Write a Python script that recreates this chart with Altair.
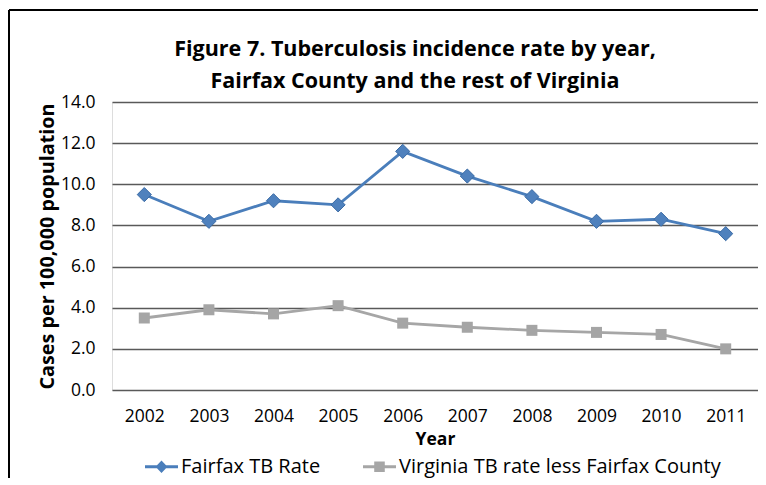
import altair as alt
import pandas as pd

years = [2002, 2003, 2004, 2005, 2006, 2007, 2008, 2009, 2010, 2011]
fairfax = [9.5, 8.2, 9.2, 9.0, 11.6, 10.4, 9.4, 8.2, 8.3, 7.6]
virginia = [3.5, 3.9, 3.7, 4.1, 3.25, 3.05, 2.9, 2.8, 2.7, 2.0]
series_names = ["Fairfax TB Rate", "Virginia TB rate less Fairfax County"]
line_colors = ["#4A7EBB", "#A6A6A6"]
marker_fill = ["#4F81BD", "#A5A5A5"]
marker_stroke = ["#3A6BA5", "#A5A5A5"]
y_ticks = [0, 2, 4, 6, 8, 10, 12, 14]

rows = []
for name, vals in zip(series_names, [fairfax, virginia]):
    for yr, v in zip(years, vals):
        rows.append({"Year": str(yr), "series": name, "rate": v})
df = pd.DataFrame(rows)

FONT = "Open Sans"

# legend symbols: a short line with the marker on it
diamond_leg = "M-1,-0.09H1V0.09H-1Z M0,-0.38L0.36,0L0,0.38L-0.36,0Z"
square_leg = "M-1,-0.09H1V0.09H-1Z M-0.32,-0.32H0.32V0.32H-0.32Z"

x_enc = alt.X("Year:O", scale=alt.Scale(type="point", padding=0.5),
              axis=alt.Axis(title="Year", labelAngle=0, ticks=False, domain=False,
                            labelPadding=17, labelFontSize=17.5, labelFont=FONT,
                            labelColor="#000000", titleFont=FONT, titleFontSize=17.5,
                            titleFontWeight="bold", titleColor="#000000", titlePadding=6))
y_enc = alt.Y("rate:Q", scale=alt.Scale(domain=[0, 14], nice=False),
              axis=alt.Axis(title="Cases per 100,000 population", values=y_ticks, format=".1f",
                            ticks=False, domain=False, grid=True, gridColor="#595959",
                            gridWidth=1.3, labelPadding=17, labelFontSize=17.5, labelFont=FONT,
                            labelColor="#000000", titleFont=FONT, titleFontSize=19.8,
                            titleFontWeight="bold", titleColor="#000000", titlePadding=3))

color_scale = alt.Scale(domain=series_names, range=line_colors)

leg = alt.Legend(title=None, orient="none", legendX=33, legendY=348, direction="horizontal",
                 symbolSize=1089, symbolStrokeWidth=0, symbolOpacity=1, labelFont=FONT,
                 labelFontSize=20, labelColor="#000000", labelOffset=3, columnPadding=42,
                 labelLimit=500)

lines = alt.Chart(df).mark_line(strokeWidth=2.8).encode(
    x=x_enc, y=y_enc,
    color=alt.Color("series:N", scale=color_scale, legend=leg),
)

points_fx = alt.Chart(df).transform_filter(
    alt.datum.series == series_names[0]
).mark_point(filled=True, opacity=1, shape="diamond", size=200,
             fill=marker_fill[0], stroke=marker_stroke[0], strokeWidth=1).encode(
    x=x_enc, y=y_enc)

points_va = alt.Chart(df).transform_filter(
    alt.datum.series == series_names[1]
).mark_point(filled=True, opacity=1, shape="square", size=121,
             fill=marker_fill[1], stroke=marker_stroke[1], strokeWidth=0).encode(
    x=x_enc, y=y_enc)

legend_layer = alt.Chart(df).mark_point(filled=True, opacity=0).encode(
    x=x_enc, y=y_enc,
    color=alt.Color("series:N", scale=color_scale, legend=leg),
    shape=alt.Shape("series:N", scale=alt.Scale(domain=series_names, range=[diamond_leg, square_leg]), legend=leg),
)

frame_df = pd.DataFrame({"k": [0]})
frame_top = alt.Chart(frame_df).mark_rule(color="#000000", strokeWidth=2).encode(
    x=alt.value(-103), x2=alt.value(680), y=alt.value(-92))
frame_left = alt.Chart(frame_df).mark_rule(color="#000000", strokeWidth=2).encode(
    x=alt.value(-103), y=alt.value(-92), y2=alt.value(400))

chart = alt.layer(legend_layer, lines, points_fx, points_va, frame_top, frame_left).properties(
    width=646, height=288,
    padding={"left": 104, "top": 94, "right": 0, "bottom": 88},
    autosize=alt.AutoSizeParams(type="none"),
    title=alt.TitleParams(
        text=["Figure 7. Tuberculosis incidence rate by year,", "Fairfax County and the rest of Virginia"],
        font=FONT, fontSize=21.5, fontWeight="bold", color="#000000", anchor="middle",
        dx=-20, offset=-83, lineHeight=32),
).configure_view(stroke="#808080", strokeWidth=1.3).configure(background="#ffffff")

chart.save("out.html", embed_options={"renderer": "svg", "actions": False})
